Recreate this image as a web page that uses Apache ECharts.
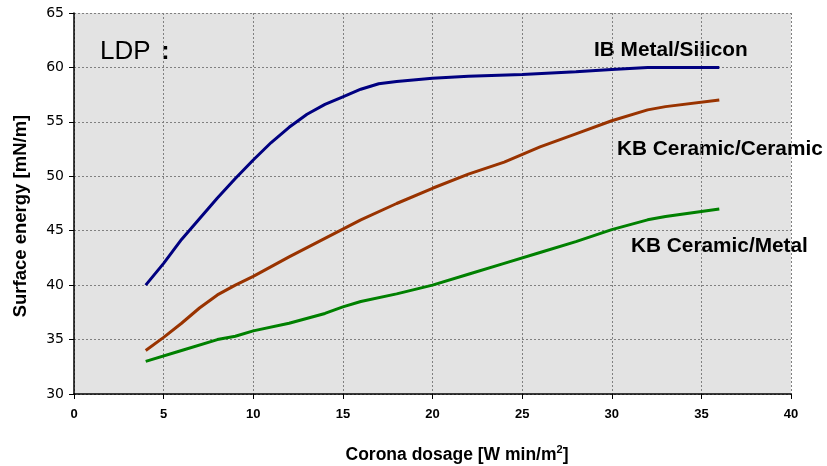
<!DOCTYPE html>
<html><head><meta charset="utf-8">
<script src="https://cdn.jsdelivr.net/npm/echarts@6/dist/echarts.min.js"></script>
<style>html,body{margin:0;padding:0;background:#fff}#c{width:827px;height:466px}</style>
</head><body><div id="c"></div>
<script>
const xTicks = [0,5,10,15,20,25,30,35,40];
const yTicks = [30,35,40,45,50,55,60,65];

const ibX = [4,5,6,7,8,9,10,11,12,13,14,15,16,17,18,20,22,25,28,30,32,34,36];
const ibY = [40,42,44.2,46.1,48,49.8,51.5,53.1,54.5,55.7,56.6,57.3,58,58.5,58.7,59,59.2,59.35,59.6,59.8,60,60,60];

const kbcX = [4,5,6,7,8,9,10,12,14,16,18,20,22,24,26,28,30,32,33,36];
const kbcY = [34,35.2,36.5,37.9,39.1,40,40.8,42.6,44.3,46,47.5,48.9,50.2,51.3,52.7,53.9,55.1,56.1,56.4,57];

const kbmX = [4,6,8,9,10,12,14,15,16,18,20,22,24,26,28,30,32,33,36];
const kbmY = [33,34,35,35.3,35.8,36.5,37.4,38,38.5,39.2,40,41,42,43,44,45.1,46,46.3,47];

const seriesNames = ['IB Metal/Silicon','KB Ceramic/Ceramic','KB Ceramic/Metal'];

const pairs = (xs, ys) => xs.map((x,i)=>[x, ys[i]]);

const chart = echarts.init(document.getElementById('c'), null, {renderer:'canvas'});
const gridLine = {show:true, lineStyle:{color:'#808080', type:[2,2], width:1}};
const F = 'Liberation Sans, Arial';
chart.setOption({
  animation:false,
  backgroundColor:'#ffffff',
  grid:{left:74, top:13, right:36, bottom:72, show:true, backgroundColor:'#e3e3e3', borderWidth:0},
  xAxis:{type:'value', min:0, max:40, interval:5,
    axisLine:{show:true, onZero:false, lineStyle:{color:'#000', width:1.5}},
    axisTick:{show:true, length:5, lineStyle:{color:'#000'}},
    axisLabel:{color:'#000', fontFamily:F, fontWeight:'bold', fontSize:13, margin:14},
    splitLine:gridLine},
  yAxis:{type:'value', min:30, max:65, interval:5,
    axisLine:{show:true, onZero:false, lineStyle:{color:'#000', width:1.5}},
    axisTick:{show:true, length:5, lineStyle:{color:'#000'}},
    axisLabel:{color:'#000', fontFamily:'DejaVu Sans', fontSize:14, margin:10},
    splitLine:gridLine},
  series:[
    {name:seriesNames[0], type:'line', data:pairs(ibX, ibY), showSymbol:false, lineStyle:{color:'#000080', width:3}, z:3},
    {name:seriesNames[1], type:'line', data:pairs(kbcX, kbcY), showSymbol:false, lineStyle:{color:'#993300', width:3}, z:3},
    {name:seriesNames[2], type:'line', data:pairs(kbmX, kbmY), showSymbol:false, lineStyle:{color:'#008000', width:3}, z:3}
  ],
  graphic:[
    {type:'text', x:100, y:52, style:{text:'LDP', fontFamily:F, fontSize:26, fill:'#000', verticalAlign:'middle'}},
    {type:'text', x:161, y:52, style:{text:':', fontFamily:F, fontSize:26, fontWeight:'bold', fill:'#000', verticalAlign:'middle'}},
    {type:'text', x:594, y:50, style:{text:seriesNames[0], fontFamily:F, fontWeight:'bold', fontSize:20.8, fill:'#000', verticalAlign:'middle'}},
    {type:'text', x:617, y:149, style:{text:seriesNames[1], fontFamily:F, fontWeight:'bold', fontSize:20.8, fill:'#000', verticalAlign:'middle'}},
    {type:'text', x:631, y:246, style:{text:seriesNames[2], fontFamily:F, fontWeight:'bold', fontSize:20.8, fill:'#000', verticalAlign:'middle'}},
    {type:'text', x:21, y:216, rotation:Math.PI/2, style:{text:'Surface energy [mN/m]', fontFamily:F, fontWeight:'bold', fontSize:18.5, fill:'#000', align:'center', verticalAlign:'middle'}},
    {type:'text', x:457, y:455, style:{text:'{a|Corona dosage [W min/m}{s|2}{a|]}', align:'center', verticalAlign:'middle',
      rich:{a:{fontFamily:F, fontWeight:'bold', fontSize:17.5, color:'#000'},
            s:{fontFamily:F, fontWeight:'bold', fontSize:11, color:'#000', verticalAlign:'top', padding:[0,0,10,0]}}}}
  ]
});
</script></body></html>
